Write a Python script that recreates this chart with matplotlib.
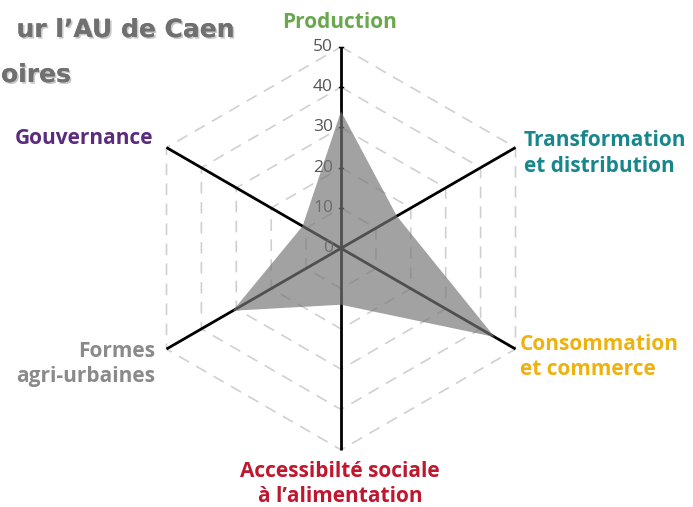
import numpy as np
import matplotlib
matplotlib.use("Agg")
import matplotlib.pyplot as plt
import matplotlib.patheffects as pe

# ---- data ----
categories = ["Production", "Transformation\net distribution", "Consommation\net commerce",
              "Accessibilté sociale\nà l’alimentation", "Formes\nagri-urbaines", "Gouvernance"]
values = [34, 16, 44, 14, 31, 11]
angles_deg = [90, 30, -30, -90, 210, 150]
label_colors = ["#6aa84f", "#17878c", "#eeb20f", "#c0162e", "#8a8a8a", "#5b2b7d"]
ticks = [0, 10, 20, 30, 40, 50]
rmax = 50

W, H, DPI = 693, 507, 100
cx, cy = 341, 248.3
ppu = 4.03  # pixels per unit

fig = plt.figure(figsize=(W / DPI, H / DPI), dpi=DPI)
ax = fig.add_axes([0, 0, 1, 1])
ax.set_xlim(-cx / ppu, (W - cx) / ppu)
ax.set_ylim(-(H - cy) / ppu, cy / ppu)
ax.axis("off")

th = np.deg2rad(angles_deg)
# hexagon grid
for r in ticks[1:]:
    xs = r * np.cos(np.append(th, th[0]))
    ys = r * np.sin(np.append(th, th[0]))
    ax.plot(xs, ys, color="#d0d0d0", lw=1.2, ls=(0, (7, 5)), zorder=1)

# axes
for t in th:
    ax.plot([0, rmax * np.cos(t)], [0, rmax * np.sin(t)], color="black", lw=2.0, zorder=2,
            solid_capstyle="butt")

# tick labels
for v in ticks:
    ax.text(-2.0, v, str(v), ha="right", va="center", fontsize=12.5, color="#555555",
            family="Open Sans", zorder=3)
    ax.plot([-0.6, 0.6], [v, v], color="black", lw=1.0, zorder=2)

# polygon
vals = np.array(values, dtype=float)
px = vals * np.cos(th)
py = vals * np.sin(th)
ax.fill(px, py, color="#767676", alpha=0.68, lw=0, zorder=4)

# category labels (pixel positions converted to data)
def P(x, y):
    return ((x - cx) / ppu, (cy - y) / ppu)

lab_pos = [((340, 22), "center"),
           ((524, 153.5), "left"),
           ((520, 357), "left"),
           ((340, 484), "center"),
           ((155, 364), "right"),
           ((153, 139), "right")]
for cat, col, (pos, ha) in zip(categories, label_colors, lab_pos):
    ax.text(*P(*pos), cat, ha=ha, va="center", color=col, fontsize=15, fontweight="bold",
            family="Open Sans", linespacing=1.25, multialignment=ha,
            zorder=5)

# cropped title text
shadow = [pe.withSimplePatchShadow(offset=(1.2, -1.2), shadow_rgbFace="#bbbbbb", alpha=0.8), pe.Normal()]
fig.text(235 / W, 1 - 37 / H, "ur l’AU de Caen", ha="right", va="baseline", fontsize=18,
         fontweight="bold", family="DejaVu Sans", color="#707070", path_effects=shadow)
fig.text(1 / W, 1 - 82 / H, "oires", ha="left", va="baseline", fontsize=18,
         fontweight="bold", family="DejaVu Sans", color="#707070", path_effects=shadow)

fig.savefig("out.png", dpi=DPI)
